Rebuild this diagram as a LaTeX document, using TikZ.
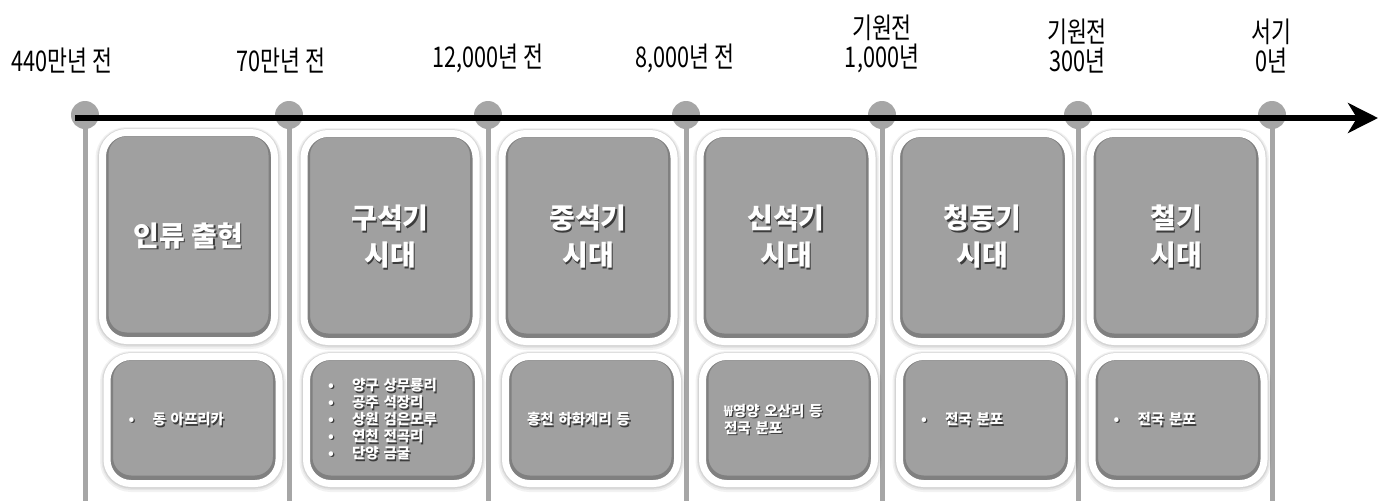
\documentclass[tikz,border=0pt]{standalone}
\usepackage{fontspec}
\setmainfont{Noto Sans CJK KR}
\newfontfamily\yearfont{Noto Sans CJK KR}[FakeStretch=0.76]
\usetikzlibrary{arrows.meta}

\definecolor{boxgray}{RGB}{160,160,160}
\definecolor{rimgray}{RGB}{128,128,128}
\definecolor{tickgray}{RGB}{166,166,166}
\definecolor{textshade}{RGB}{60,60,60}

% white text with a small dark shadow
\newcommand\shd[1]{\leavevmode\rlap{\hspace{1.3pt}\raisebox{-1.3pt}{\color{textshade}#1}}#1}
\newcommand\bul{\makebox[24pt][l]{\raisebox{0.5pt}{•}}}

\tikzset{
  tick/.style={circle, fill=tickgray, minimum size=28pt, inner sep=0pt},
  stem/.style={tickgray, line width=5pt},
  year/.style={font=\yearfont\fontsize{28.5}{29}\selectfont, align=center,
               anchor=south, inner sep=0pt},
  erabox/.style={rectangle, rounded corners=24pt, fill=boxgray, draw=white,
               line width=7pt, minimum width=172pt, text=white,
               preaction={draw=black, draw opacity=0.05, line width=14pt,
                          transform canvas={yshift=-1.5pt}},
               preaction={draw=black, draw opacity=0.06, line width=11pt,
                          transform canvas={yshift=-1pt}},
               preaction={draw=black, draw opacity=0.07, line width=9pt,
                          transform canvas={yshift=-0.5pt}},
               path picture={\draw[rimgray, line width=12pt, rounded corners=24pt]
                 ([yshift=2pt]path picture bounding box.north west) rectangle
                 ([yshift=2pt]path picture bounding box.south east);}},
  period/.style={erabox, minimum height=208pt, align=center,
               font=\bfseries\fontsize{28}{37}\selectfont},
  site/.style={erabox, minimum height=127pt, inner xsep=21.5pt,
               text width=129pt, align=left,
               font=\bfseries\fontsize{14.5}{17}\selectfont}
}

\begin{document}
\begin{tikzpicture}[x=1pt,y=-1pt]
  \useasboundingbox (0,0) rectangle (1383,501);
  \coordinate (bot)     at (0,501);
  \coordinate (axstart) at (75,118);
  \coordinate (axend)   at (1378,118);

  % ticks and stems
  \foreach \n/\x in {1/85,2/289,3/488,4/686,5/882,6/1078,7/1272}{
    \draw[stem] (\x,115) -- (\x,115 |- bot);
    \node[tick] (t\n) at (\x,115) {};
  }

  % dates
  \node[year] (d1) at (62,73)   {440만년 전};
  \node[year] (d2) at (281,73)  {70만년 전};
  \node[year] (d3) at (488,73)  {12,000년 전};
  \node[year] (d4) at (685,73)  {8,000년 전};
  \node[year] (d5) at (882,73)  {기원전\\1,000년};
  \node[year] (d6) at (1077,73) {기원전\\300년};
  \node[year] (d7) at (1271,73) {서기\\0년};

  % periods
  \node[period] (era1) at (188.5,236.5) {\shd{인류 출현}};
  \node[period] (era2) at (390,237.5)   {\shd{구석기}\\\shd{시대}};
  \node[period] (era3) at (588,237.5)   {\shd{중석기}\\\shd{시대}};
  \node[period] (era4) at (786,237.5)   {\shd{신석기}\\\shd{시대}};
  \node[period] (era5) at (982.5,237.5) {\shd{청동기}\\\shd{시대}};
  \node[period] (era6) at (1176,237.5)  {\shd{철기}\\\shd{시대}};

  % sites
  \node[site] (site1) at (193,420)    {\shd{\bul 동 아프리카}};
  \node[site] (site2) at (392.5,420)  {\shd{\bul 양구 상무룡리}\\\shd{\bul 공주 석장리}\\
                                       \shd{\bul 상원 검은모루}\\\shd{\bul 연천 전곡리}\\
                                       \shd{\bul 단양 금굴}};
  \node[site] (site3) at (591.5,420)  {\shd{홍천 하화계리 등}};
  \node[site] (site4) at (788.5,420)  {\shd{₩영양 오산리 등}\\\shd{전국 분포}};
  \node[site] (site5) at (985.5,420)  {\shd{\bul 전국 분포}};
  \node[site] (site6) at (1178,420)   {\shd{\bul 전국 분포}};

  % time axis
  \draw[line width=6pt, -{Stealth[length=30pt,width=30pt,inset=9pt]}]
       (axstart) -- (axend);
\end{tikzpicture}
\end{document}
